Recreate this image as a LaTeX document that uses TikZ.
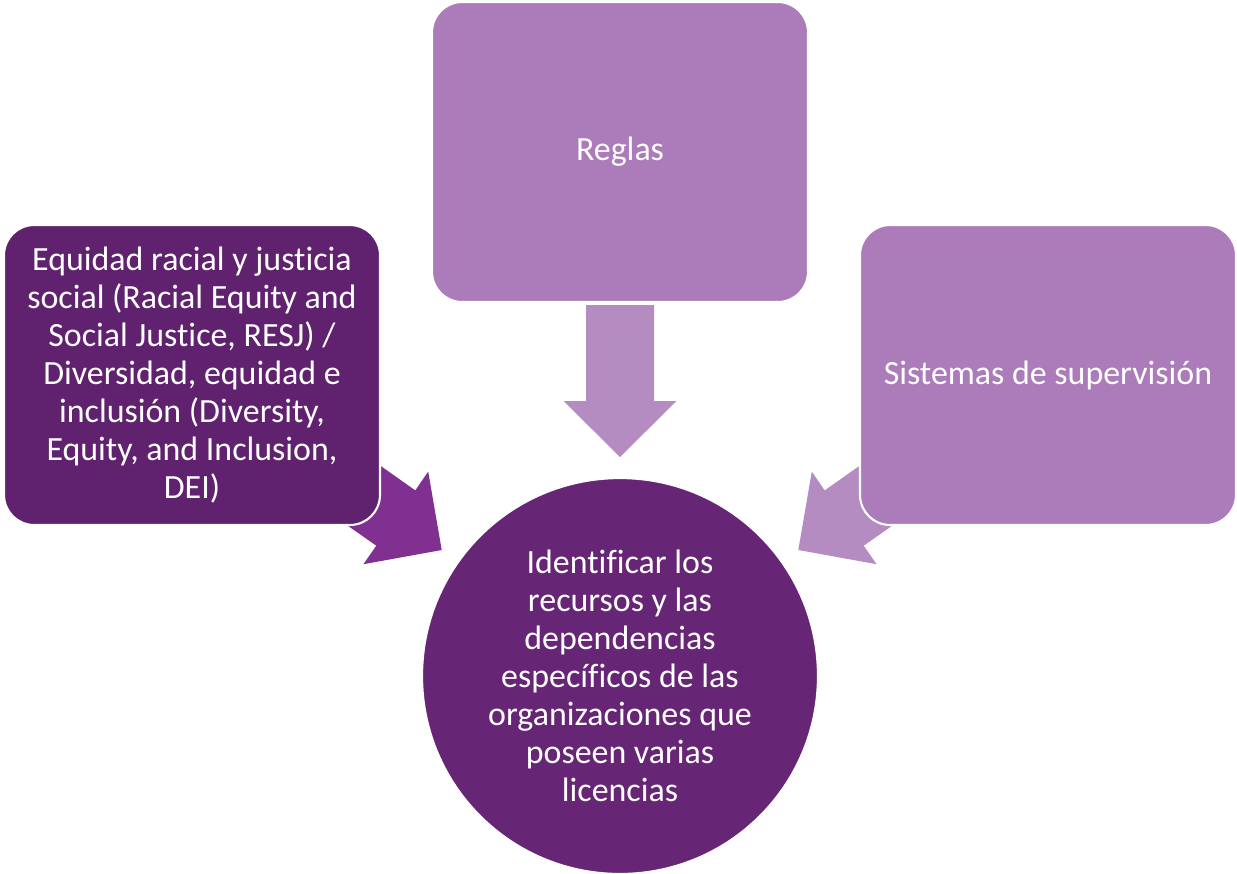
\documentclass[tikz,border=0pt]{standalone}
\usepackage{fontspec}
\setmainfont{Carlito}[Ligatures={NoCommon}]
\usetikzlibrary{shapes.geometric}

\definecolor{lilac}{RGB}{171,123,186}
\definecolor{lilacarrow}{RGB}{181,140,193}
\definecolor{plum}{RGB}{96,33,110}
\definecolor{plumarrow}{RGB}{127,48,145}
\definecolor{plumcircle}{RGB}{102,37,117}

\begin{document}
\begin{tikzpicture}[x=0.02cm, y=-0.02cm,
	box/.style = {rectangle, rounded corners=0.6cm, draw=white, line width=1.2pt,
		minimum width=7.52cm, minimum height=6cm, inner sep=0pt, align=center,
		text=white, font=\fontsize{19.3}{21.6}\selectfont},
	lightbox/.style = {box, fill=lilac},
	darkbox/.style = {box, fill=plum}]
	\useasboundingbox (0,0) rectangle (1237,873);
	% block arrows
	\fill[lilacarrow] (620,457) -- (676.5,401) -- (654,401) -- (654,305)
		-- (586,305) -- (586,401) -- (563.5,401) -- cycle;
	\fill[plumarrow] (441.7,550) -- (363.4,564.2) -- (376.3,545.7) -- (307.5,497.4)
		-- (346.5,441.8) -- (415.3,490.4) -- (428.2,471.6) -- cycle;
	\fill[lilacarrow] (798.3,550) -- (876.6,564.2) -- (863.7,545.7) -- (932.5,497.4)
		-- (893.5,441.8) -- (824.7,490.4) -- (811.8,471.6) -- cycle;
	% boxes
	\node[lightbox] (reglas) at (620,152) {Reglas};
	\node[darkbox] (equidad) at (192,375) {Equidad racial y justicia\\
		social (Racial Equity and\\ Social Justice, RESJ) /\\
		Diversidad, equidad e\\ inclusión (Diversity,\\
		Equity, and Inclusion,\\ DEI)};
	\node[lightbox] (sistemas) at (1048,375) {Sistemas de supervisión};
	% centre
	\node[circle, fill=plumcircle, draw=white, line width=1.2pt, minimum size=7.92cm,
		inner sep=0pt, align=center, text=white,
		font=\fontsize{19.3}{21.6}\selectfont] (recursos) at (620,676)
		{Identificar los\\ recursos y las\\ dependencias\\ específicos de las\\
		organizaciones que\\ poseen varias\\ licencias};
\end{tikzpicture}
\end{document}
